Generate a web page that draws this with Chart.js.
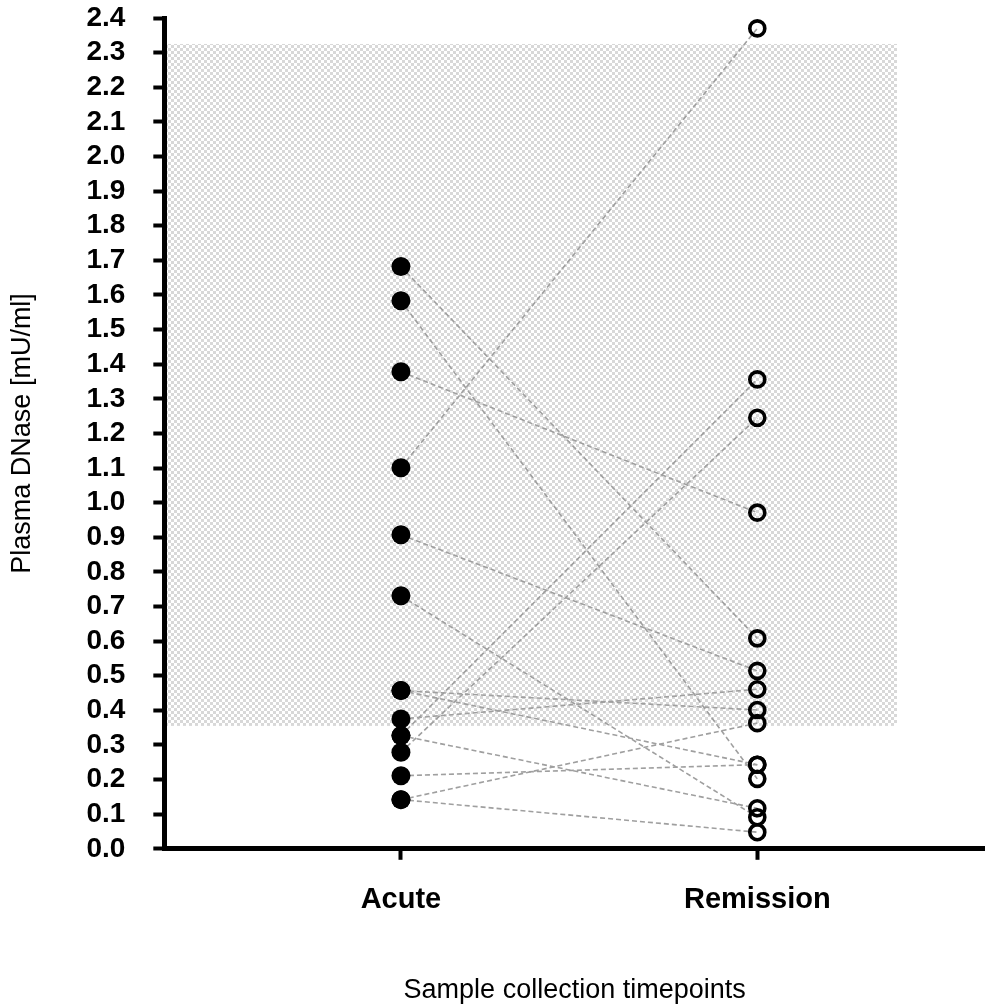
<!DOCTYPE html>
<html>
<head>
<meta charset="utf-8">
<script src="https://cdn.jsdelivr.net/npm/chart.js@4/dist/chart.umd.min.js"></script>
<style>
  html, body { margin: 0; padding: 0; background: #fff; }
</style>
</head>
<body>
<canvas id="chart" width="985" height="1007"></canvas>
<script>
// categories on the x axis
const timepoints = ['Acute', 'Remission'];
const timepointPos = [1, 2];

// paired patient values, same index = same patient
const acute     = [1.682, 1.583, 1.378, 1.101, 0.907, 0.731, 0.457, 0.457, 0.375, 0.327, 0.327, 0.279, 0.211, 0.142, 0.142];
const remission = [0.608, 0.202, 0.971, 2.370, 0.514, 0.091, 0.401, 0.243, 0.461, 1.356, 0.117, 1.245, 0.243, 0.363, 0.048];

// shaded reference range
const normalRange = [0.355, 2.325];
const normalRangeEnd = 2.392;

const yTickLabels = ['0.0','0.1','0.2','0.3','0.4','0.5','0.6','0.7','0.8','0.9','1.0','1.1','1.2',
                     '1.3','1.4','1.5','1.6','1.7','1.8','1.9','2.0','2.1','2.2','2.3','2.4'];

const FONT = "'Liberation Sans', Arial, Helvetica, sans-serif";

const bandPlugin = {
    id: 'normalBand',
    beforeDraw(chart) {
        const { ctx, chartArea, scales: { x, y } } = chart;
        const tile = document.createElement('canvas');
        tile.width = 6;
        tile.height = 6;
        const t = tile.getContext('2d');
        t.fillStyle = '#ffffff';
        t.fillRect(0, 0, 6, 6);
        t.fillStyle = '#d8d8d8';
        t.fillRect(0, 0, 3, 3);
        t.fillRect(3, 3, 3, 3);

        const top = y.getPixelForValue(normalRange[1]);
        const bottom = y.getPixelForValue(normalRange[0]);
        const right = x.getPixelForValue(normalRangeEnd);
        ctx.save();
        ctx.fillStyle = ctx.createPattern(tile, 'repeat');
        ctx.fillRect(chartArea.left, top, right - chartArea.left, bottom - top);
        ctx.restore();
    }
};

// the scales otherwise reserve extra room around the plot for their labels
const noEdgePadding = axis => {
    axis.paddingTop = 0;
    axis.paddingBottom = 0;
    axis.paddingLeft = 0;
    axis.paddingRight = 0;
};

// one dashed line per patient
const pairLines = acute.map((a, i) => ({
    type: 'line',
    data: [{ x: timepointPos[0], y: a }, { x: timepointPos[1], y: remission[i] }],
    borderColor: '#9f9f9f',
    borderWidth: 1.6,
    borderDash: [5, 3],
    pointRadius: 0,
    fill: false,
    tension: 0,
    order: 2
}));

const ctx = document.getElementById('chart').getContext('2d');
const chart = new Chart(ctx, {
    type: 'scatter',
    data: {
        datasets: [
            {
                data: acute.map(v => ({ x: timepointPos[0], y: v })),
                pointRadius: 9.5,
                pointBackgroundColor: '#000',
                pointBorderColor: '#000',
                pointBorderWidth: 0,
                order: 0
            },
            {
                data: remission.map(v => ({ x: timepointPos[1], y: v })),
                pointRadius: 7.5,
                pointBackgroundColor: 'rgba(0,0,0,0)',
                pointBorderColor: '#000',
                pointBorderWidth: 3.6,
                order: 1
            },
            ...pairLines
        ]
    },
    options: {
        responsive: false,
        animation: false,
        clip: false,
        layout: { autoPadding: false, padding: { top: 18, right: 0, bottom: 0, left: 0 } },
        plugins: {
            legend: { display: false },
            tooltip: { enabled: false }
        },
        scales: {
            x: {
                type: 'linear',
                min: 0.336,
                max: 2.639,
                afterBuildTicks: axis => { axis.ticks = timepointPos.map(v => ({ value: v })); },
                afterFit: noEdgePadding,
                border: { display: true, color: '#000', width: 5 },
                grid: {
                    drawOnChartArea: false,
                    drawTicks: true,
                    tickLength: 11,
                    tickColor: '#000',
                    tickWidth: 4
                },
                ticks: {
                    autoSkip: false,
                    maxRotation: 0,
                    padding: 23,
                    color: '#000',
                    font: { family: FONT, size: 29, weight: 'bold' },
                    callback: v => timepoints[timepointPos.indexOf(v)]
                },
                title: {
                    display: true,
                    text: 'Sample collection timepoints',
                    color: '#000',
                    font: { family: FONT, size: 27 },
                    padding: { top: 34, bottom: 0 }
                }
            },
            y: {
                type: 'linear',
                min: 0,
                max: 2.4,
                afterBuildTicks: axis => { axis.ticks = yTickLabels.map(s => ({ value: parseFloat(s) })); },
                afterFit: noEdgePadding,
                border: { display: true, color: '#000', width: 5 },
                grid: {
                    drawOnChartArea: false,
                    drawTicks: true,
                    tickLength: 11,
                    tickColor: '#000',
                    tickWidth: 4
                },
                ticks: {
                    autoSkip: false,
                    padding: 28,
                    color: '#000',
                    font: { family: FONT, size: 28, weight: 'bold' },
                    callback: (v, i) => yTickLabels[i]
                },
                title: {
                    display: true,
                    text: 'Plasma DNase [mU/ml]',
                    color: '#000',
                    font: { family: FONT, size: 27 },
                    padding: { top: 6, bottom: 20 }
                }
            }
        }
    },
    plugins: [bandPlugin]
});
</script>
</body>
</html>
